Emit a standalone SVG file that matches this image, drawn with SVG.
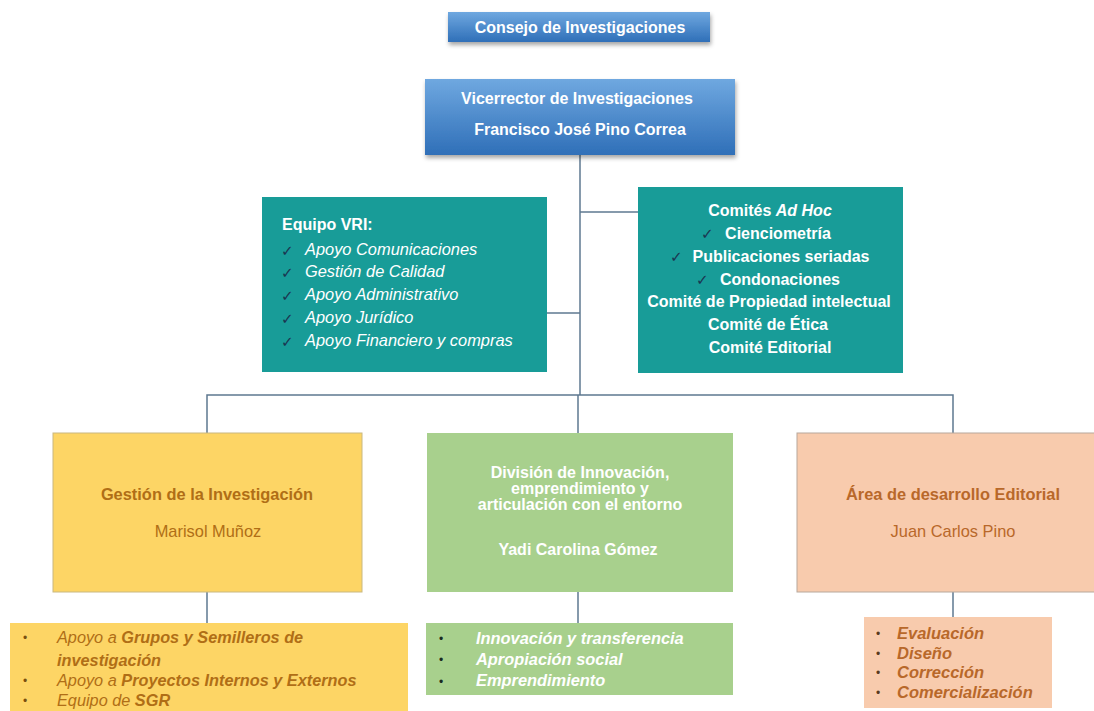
<svg xmlns="http://www.w3.org/2000/svg" width="1094" height="711" viewBox="0 0 1094 711">
<defs>
<linearGradient id="blue" x1="0" y1="0" x2="0" y2="1">
<stop offset="0" stop-color="#6FA8E0"/>
<stop offset="1" stop-color="#2F6FB8"/>
</linearGradient>
<filter id="sh" x="-10%" y="-10%" width="120%" height="140%">
<feDropShadow dx="1" dy="3" stdDeviation="2" flood-color="#000" flood-opacity="0.35"/>
</filter>
<style>
text{font-family:"Liberation Sans",Arial,sans-serif;}
.w{fill:#fff;font-weight:bold;font-size:16px;}
.wi{fill:#fff;font-style:italic;font-size:16.4px;}
.chk{fill:#1B3550;font-size:15px;font-family:"DejaVu Sans",sans-serif;font-weight:bold;}
.yt{fill:#B06E16;font-size:16.4px;}
.pt{fill:#B8682A;font-size:16.4px;}
.yl{fill:#B06E16;font-size:16.3px;font-style:italic;}
.pl{fill:#B8682A;font-size:16.5px;font-style:italic;font-weight:bold;}
.gl{fill:#fff;font-size:16.4px;font-style:italic;font-weight:bold;}
.bul{font-size:12px;font-style:normal;}
.ln{stroke:#5E7890;stroke-width:1.5;fill:none;}
</style>
</defs>
<rect width="1094" height="711" fill="#fff"/>

<g id="connectors">
<path class="ln" d="M580 155 V395"/>
<path class="ln" d="M547 313 H580"/>
<path class="ln" d="M580 212 H638"/>
<path class="ln" d="M207 433 V395 H953 V433"/>
<path class="ln" d="M578 395 V433"/>
<path class="ln" d="M207 592 V623"/>
<path class="ln" d="M578 592 V623"/>
<path class="ln" d="M953 592 V617"/>
</g>

<g id="consejo">
<rect x="448" y="12" width="262" height="30" fill="url(#blue)" filter="url(#sh)"/>
<text class="w" x="580" y="33" text-anchor="middle" font-size="16.4">Consejo de Investigaciones</text>
</g>

<g id="vicerrector">
<rect x="425" y="79" width="310" height="76" fill="url(#blue)" filter="url(#sh)"/>
<text class="w" x="577" y="104" text-anchor="middle" font-size="17">Vicerrector de Investigaciones</text>
<text class="w" x="580" y="135" text-anchor="middle" font-size="16.2">Francisco José Pino Correa</text>
</g>

<g id="equipo">
<rect x="262" y="197" width="285" height="175" fill="#189C98"/>
<text class="w" x="282" y="230">Equipo VRI:</text>
<text class="chk" x="281" y="256">✓</text>
<text class="chk" x="281" y="278">✓</text>
<text class="chk" x="281" y="301">✓</text>
<text class="chk" x="281" y="324">✓</text>
<text class="chk" x="281" y="347">✓</text>
<text class="wi" x="305" y="255">Apoyo Comunicaciones</text>
<text class="wi" x="305" y="277">Gestión de Calidad</text>
<text class="wi" x="305" y="300">Apoyo Administrativo</text>
<text class="wi" x="305" y="323">Apoyo Jurídico</text>
<text class="wi" x="305" y="346">Apoyo Financiero y compras</text>
</g>

<g id="comites">
<rect x="638" y="187" width="265" height="186" fill="#189C98"/>
<text class="w" x="770" y="216" text-anchor="middle">Comités <tspan font-style="italic">Ad Hoc</tspan></text>
<text class="chk" x="701" y="239">✓</text>
<text class="w" x="778" y="239" text-anchor="middle">Cienciometría</text>
<text class="chk" x="670" y="262">✓</text>
<text class="w" x="781" y="262" text-anchor="middle" font-size="15.2">Publicaciones seriadas</text>
<text class="chk" x="696" y="285">✓</text>
<text class="w" x="780" y="285" text-anchor="middle">Condonaciones</text>
<text class="w" x="769" y="307" text-anchor="middle">Comité de Propiedad intelectual</text>
<text class="w" x="768" y="330" text-anchor="middle">Comité de Ética</text>
<text class="w" x="770" y="353" text-anchor="middle">Comité Editorial</text>
</g>

<g id="gestion">
<rect x="53" y="433" width="309" height="159" fill="#FDD565" stroke="#C9B880" stroke-width="1"/>
<text class="yt" x="207" y="500" text-anchor="middle" font-weight="bold">Gestión de la Investigación</text>
<text class="yt" x="208" y="537" text-anchor="middle">Marisol Muñoz</text>
</g>

<g id="innovacion">
<rect x="427" y="433" width="306" height="159" fill="#A8D08D"/>
<text class="w" x="580" y="478" text-anchor="middle" font-size="16.6">División de Innovación,</text>
<text class="w" x="580" y="494" text-anchor="middle" font-size="16.6">emprendimiento y</text>
<text class="w" x="580" y="510" text-anchor="middle" font-size="16.6">articulación con el entorno</text>
<text class="w" x="578" y="555" text-anchor="middle" font-size="16.6">Yadi Carolina Gómez</text>
</g>

<g id="editorial">
<rect x="797" y="433" width="300" height="159" fill="#F8CBAD" stroke="#B8A89C" stroke-width="1"/>
<text class="pt" x="953" y="500" text-anchor="middle" font-weight="bold">Área de desarrollo Editorial</text>
<text class="pt" x="953" y="537" text-anchor="middle">Juan Carlos Pino</text>
</g>

<g id="lista-gestion">
<rect x="10" y="623" width="398" height="95" fill="#FDD565"/>
<text class="bul" x="23" y="642" fill="#7a5010">•</text>
<text class="bul" x="23" y="685" fill="#7a5010">•</text>
<text class="bul" x="23" y="705" fill="#7a5010">•</text>
<text class="yl" x="57" y="643">Apoyo a <tspan font-weight="bold">Grupos y Semilleros de</tspan></text>
<text class="yl" x="57" y="666" font-weight="bold">investigación</text>
<text class="yl" x="57" y="686">Apoyo a <tspan font-weight="bold">Proyectos Internos y Externos</tspan></text>
<text class="yl" x="57" y="706">Equipo de <tspan font-weight="bold">SGR</tspan></text>
</g>

<g id="lista-innovacion">
<rect x="426" y="623" width="307" height="72" fill="#A8D08D"/>
<text class="bul" x="439" y="643" fill="#1a2a20">•</text>
<text class="bul" x="439" y="664" fill="#1a2a20">•</text>
<text class="bul" x="439" y="686" fill="#1a2a20">•</text>
<text class="gl" x="476" y="644">Innovación y transferencia</text>
<text class="gl" x="476" y="665">Apropiación social</text>
<text class="gl" x="476" y="686">Emprendimiento</text>
</g>

<g id="lista-editorial">
<rect x="864" y="617" width="188" height="91" fill="#F8CBAD"/>
<text class="bul" x="876" y="638" fill="#5a3a20">•</text>
<text class="bul" x="876" y="658" fill="#5a3a20">•</text>
<text class="bul" x="876" y="677" fill="#5a3a20">•</text>
<text class="bul" x="876" y="697" fill="#5a3a20">•</text>
<text class="pl" x="897" y="639">Evaluación</text>
<text class="pl" x="897" y="659">Diseño</text>
<text class="pl" x="897" y="678">Corrección</text>
<text class="pl" x="897" y="698">Comercialización</text>
</g>
</svg>
